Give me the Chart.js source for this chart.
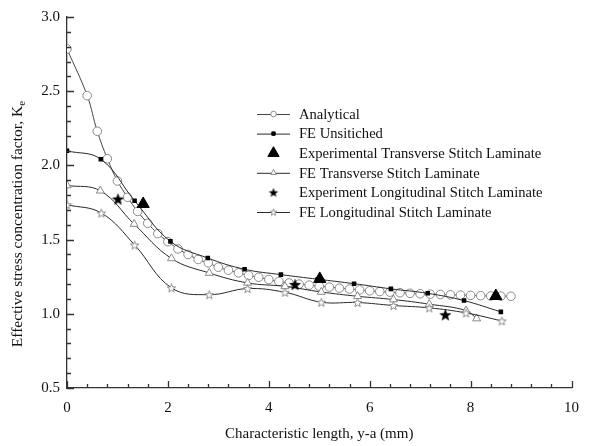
<!DOCTYPE html>
<html>
<head>
<meta charset="utf-8">
<script src="https://cdn.jsdelivr.net/npm/chart.js@4"></script>
<style>
  html, body { margin: 0; padding: 0; background: #fff; }
  #wrap { width: 590px; height: 446px; }
</style>
</head>
<body>
<div id="wrap"><canvas id="js--chart"></canvas></div>
<script>
// data
const analyticalX = [0, 0.4, 0.6, 0.8, 1.0, 1.2, 1.4, 1.6, 1.8, 2.0, 2.2, 2.4, 2.6, 2.8, 3.0, 3.2, 3.4, 3.6, 3.8, 4.0, 4.2, 4.4,
    4.6, 4.8, 5.0, 5.2, 5.4, 5.6, 5.8, 6.0, 6.2, 6.4, 6.6, 6.8, 7.0, 7.2, 7.4, 7.6, 7.8, 8.0, 8.2, 8.4, 8.6, 8.8];
const analyticalY = [2.785, 2.47, 2.23, 2.045, 1.895, 1.785, 1.69, 1.61, 1.54, 1.486, 1.437, 1.40, 1.366, 1.343, 1.314, 1.294,
    1.276, 1.258, 1.246, 1.231, 1.218, 1.208, 1.200, 1.193, 1.186, 1.180, 1.173, 1.167, 1.161, 1.155, 1.150, 1.146,
    1.142, 1.138, 1.135, 1.132, 1.130, 1.128, 1.126, 1.124, 1.122, 1.120, 1.119, 1.118];

const feUnstitchedX = [0, 0.67, 1.34, 2.05, 2.79, 3.52, 4.24, 4.97, 5.69, 6.42, 7.15, 7.87, 8.6];
const feUnstitchedY = [2.098, 2.042, 1.762, 1.488, 1.376, 1.30, 1.264, 1.233, 1.203, 1.168, 1.138, 1.089, 1.013];

const expTransX = [1.51, 5.01, 8.5];
const expTransY = [1.74, 1.235, 1.12];

const feTransX = [0, 0.66, 1.33, 2.07, 2.82, 3.58, 4.32, 5.04, 5.76, 6.47, 7.18, 7.91, 8.12];
const feTransY = [1.865, 1.829, 1.605, 1.373, 1.275, 1.208, 1.185, 1.147, 1.118, 1.096, 1.065, 1.022, 0.968];

const expLongX = [1.01, 4.52, 7.5];
const expLongY = [1.773, 1.197, 0.993];

const feLongX = [0, 0.68, 1.34, 2.07, 2.82, 3.58, 4.32, 5.04, 5.76, 6.47, 7.18, 7.91, 8.62];
const feLongY = [1.735, 1.679, 1.464, 1.175, 1.129, 1.17, 1.145, 1.078, 1.076, 1.056, 1.04, 1.006, 0.952];

const seriesNames = [
    "Analytical",
    "FE Unsitiched",
    "Experimental Transverse Stitch Laminate",
    "FE Transverse Stitch Laminate",
    "Experiment Longitudinal Stitch Laminate",
    "FE Longitudinal Stitch Laminate"
];

function pts(xs, ys) {
    return xs.map(function (x, i) { return { x: x, y: ys[i] }; });
}

// 5 point star as a little canvas
function starImg(size, fill, stroke) {
    var c = document.createElement('canvas');
    c.width = size; c.height = size;
    var ctx = c.getContext('2d');
    var R = size / 2 - 1, r = R * 0.42;
    ctx.beginPath();
    for (var i = 0; i < 10; i++) {
        var a = -Math.PI / 2 + i * Math.PI / 5;
        var rr = (i % 2) ? r : R;
        ctx.lineTo(size / 2 + rr * Math.cos(a), size / 2 + 0.5 + rr * Math.sin(a));
    }
    ctx.closePath();
    ctx.fillStyle = fill;
    ctx.fill();
    if (stroke) { ctx.strokeStyle = stroke; ctx.lineWidth = 1; ctx.stroke(); }
    return c;
}

const lineCol = '#2a2a2a';
const openCol = '#8a8a8a';
const serif = '"Liberation Serif", "Times New Roman", serif';

// inward ticks, major + minor
const tickMarks = {
    id: 'tickMarks',
    afterDraw(chart) {
        var ctx = chart.ctx;
        var xs = chart.scales.x, ys = chart.scales.y;
        ctx.save();
        ctx.strokeStyle = '#333';
        ctx.lineWidth = 1.3;
        ctx.beginPath();
        ys.ticks.forEach(function (t) {
            var major = Math.abs(t.value * 2 - Math.round(t.value * 2)) < 1e-6;
            var py = Math.round(ys.getPixelForValue(t.value)) + 0.5;
            ctx.moveTo(ys.right, py);
            ctx.lineTo(ys.right + (major ? 7 : 4), py);
        });
        xs.ticks.forEach(function (t) {
            var major = Math.abs(t.value / 2 - Math.round(t.value / 2)) < 1e-6;
            var px = Math.round(xs.getPixelForValue(t.value)) + 0.5;
            ctx.moveTo(px, xs.top);
            ctx.lineTo(px, xs.top - (major ? 7 : 4));
        });
        ctx.stroke();

        // y title with subscript e
        ctx.translate(18, 224);
        ctx.rotate(-Math.PI / 2);
        ctx.fillStyle = '#111';
        ctx.textBaseline = 'middle';
        var main = 'Effective stress concentration factor, K';
        ctx.font = '15.5px ' + serif;
        var w1 = ctx.measureText(main).width;
        ctx.font = '11px ' + serif;
        var w2 = ctx.measureText('e').width;
        var x0 = -(w1 + w2) / 2;
        ctx.font = '15.5px ' + serif;
        ctx.fillText(main, x0, 0);
        ctx.font = '11px ' + serif;
        ctx.fillText('e', x0 + w1, 4.5);
        ctx.restore();
    }
};

// legend drawn inside the plot
const innerLegend = {
    id: 'innerLegend',
    afterDraw(chart) {
        var ctx = chart.ctx;
        ctx.save();
        chart.data.datasets.forEach(function (ds, i) {
            var y = 114 + i * 19.6;
            if (ds.showLine) {
                ctx.strokeStyle = ds.borderColor;
                ctx.lineWidth = 1;
                ctx.beginPath();
                ctx.moveTo(257, y + 0.5);
                ctx.lineTo(290, y + 0.5);
                ctx.stroke();
            }
            ctx.fillStyle = ds.pointBackgroundColor;
            ctx.strokeStyle = ds.pointBorderColor;
            ctx.lineWidth = 1;
            Chart.helpers.drawPoint(ctx, {
                pointStyle: ds.legendStyle || ds.pointStyle,
                radius: ds.legendRadius,
                rotation: 0,
                borderWidth: 1
            }, 273.5, y);
            ctx.fillStyle = '#111';
            ctx.font = '14.6px ' + serif;
            ctx.textBaseline = 'middle';
            ctx.fillText(ds.label, 299, y + 1);
        });
        ctx.restore();
    }
};

const data = {
    datasets: [
        {
            label: seriesNames[0],
            data: pts(analyticalX, analyticalY),
            showLine: true, tension: 0.4,
            borderColor: '#444', borderWidth: 1,
            pointStyle: 'circle', pointRadius: 4.3,
            pointBackgroundColor: '#fff', pointBorderColor: openCol, pointBorderWidth: 1,
            legendRadius: 2.8, order: 6
        },
        {
            label: seriesNames[1],
            data: pts(feUnstitchedX, feUnstitchedY),
            showLine: true, tension: 0.4,
            borderColor: lineCol, borderWidth: 1,
            pointStyle: 'rect', pointRadius: 3.2,
            pointBackgroundColor: '#000', pointBorderColor: '#000', pointBorderWidth: 0,
            legendRadius: 2.4, order: 5
        },
        {
            label: seriesNames[2],
            data: pts(expTransX, expTransY),
            showLine: false,
            borderColor: '#000',
            pointStyle: 'triangle', pointRadius: 7,
            pointBackgroundColor: '#000', pointBorderColor: '#000', pointBorderWidth: 1,
            legendRadius: 6.5, order: 1
        },
        {
            label: seriesNames[3],
            data: pts(feTransX, feTransY),
            showLine: true, tension: 0.4,
            borderColor: lineCol, borderWidth: 1,
            pointStyle: 'triangle', pointRadius: 4.6,
            pointBackgroundColor: '#fff', pointBorderColor: openCol, pointBorderWidth: 1,
            legendRadius: 3.3, order: 4
        },
        {
            label: seriesNames[4],
            data: pts(expLongX, expLongY),
            showLine: false,
            borderColor: '#000',
            pointStyle: starImg(15, '#000', null),
            legendStyle: starImg(12, '#000', null),
            pointBackgroundColor: '#000', pointBorderColor: '#000',
            legendRadius: 5, order: 2
        },
        {
            label: seriesNames[5],
            data: pts(feLongX, feLongY),
            showLine: true, tension: 0.4,
            borderColor: lineCol, borderWidth: 1,
            pointStyle: starImg(11, '#fff', openCol),
            legendStyle: starImg(9, '#fff', openCol),
            pointBackgroundColor: '#fff', pointBorderColor: openCol,
            legendRadius: 4, order: 3
        }
    ]
};

const config = {
    type: 'scatter',
    data: data,
    options: {
        responsive: true,
        maintainAspectRatio: false,
        animation: false,
        layout: { padding: { top: 17, right: 7, left: 0, bottom: 0 } },
        plugins: {
            legend: { display: false },
            tooltip: { enabled: false }
        },
        scales: {
            x: {
                type: 'linear',
                min: 0, max: 10,
                grid: { display: false, drawTicks: false },
                border: { display: true, color: '#333', width: 1.3 },
                ticks: {
                    stepSize: 0.4,
                    autoSkip: false,
                    maxRotation: 0,
                    padding: 11,
                    color: '#111',
                    font: { family: serif, size: 15 },
                    callback: function (v) {
                        return Math.abs(v / 2 - Math.round(v / 2)) < 1e-6 ? String(Math.round(v)) : '';
                    }
                },
                title: {
                    display: true,
                    text: 'Characteristic length, y-a (mm)',
                    color: '#111',
                    font: { family: serif, size: 15 },
                    padding: { top: 4, bottom: 3 }
                },
                afterFit: function (scale) { scale.height = 58; }
            },
            y: {
                type: 'linear',
                min: 0.5, max: 3.0,
                grid: { display: false, drawTicks: false },
                border: { display: true, color: '#333', width: 1.3 },
                ticks: {
                    stepSize: 0.1,
                    autoSkip: false,
                    padding: 7,
                    color: '#111',
                    font: { family: serif, size: 15 },
                    callback: function (v) {
                        return Math.abs(v * 2 - Math.round(v * 2)) < 1e-6 ? v.toFixed(1) : '';
                    }
                },
                afterFit: function (scale) { scale.width = 67; }
            }
        }
    },
    plugins: [tickMarks, innerLegend]
};

new Chart(document.getElementById("js--chart"), config);
</script>
</body>
</html>
